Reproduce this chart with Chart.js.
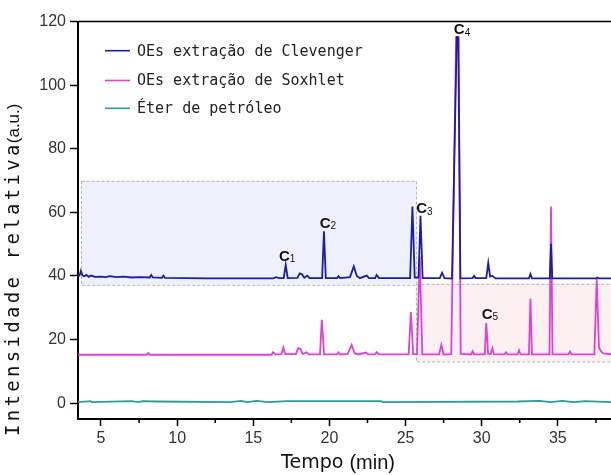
<!DOCTYPE html>
<html>
<head>
<meta charset="utf-8">
<script src="https://cdn.jsdelivr.net/npm/chart.js@4.4.1/dist/chart.umd.min.js"></script>
<style>
  html, body { margin: 0; padding: 0; background: #fff; overflow: hidden; }
  canvas { display: block; }
</style>
</head>
<body>
<canvas id="chroma" width="611" height="475"></canvas>
<script>
// chromatogram values (tempo in min, intensidade in a.u.)
const seriesNames = ["OEs extração de Clevenger", "OEs extração de Soxhlet", "Éter de petróleo"];

const clevTime = [3.5, 3.6, 3.68, 3.78, 3.9, 4.05, 4.2, 4.35, 4.6, 5.0, 5.3, 5.6, 6.0, 6.5, 7.0, 7.5,
  8.2, 8.3, 8.4, 9.0, 9.1, 9.2, 10.5, 12.0, 14.0, 16.3, 16.5, 16.7, 17.0, 17.13, 17.26, 17.9, 18.05,
  18.2, 18.35, 18.55, 18.7, 19.52, 19.64, 19.76, 20.5, 20.6, 20.7, 21.35, 21.6, 21.8, 22.0, 22.45,
  22.6, 23.0, 23.1, 23.25, 25.3, 25.45, 25.6, 25.85, 25.98, 26.12, 27.25, 27.4, 27.55, 28.05, 28.36,
  28.46, 28.6, 29.4, 29.5, 29.6, 30.3, 30.43, 30.55, 30.7, 30.9, 33.1, 33.2, 33.3, 34.47, 34.55,
  34.63, 36.0, 37.5, 37.6, 37.7, 38.6];
const clevInt = [39.8, 40.2, 41.6, 40.2, 39.9, 40.3, 39.7, 40.1, 39.7, 39.8, 39.6, 39.9, 39.6, 39.8, 39.5, 39.6,
  39.5, 40.3, 39.5, 39.4, 40.1, 39.4, 39.3, 39.2, 39.2, 39.2, 39.6, 39.3, 39.3, 43.5, 39.3, 39.4, 40.8,
  40.5, 39.4, 40.1, 39.3, 39.3, 54.0, 39.3, 39.3, 39.9, 39.3, 39.6, 43.0, 40.0, 39.3, 40.1,
  39.3, 39.3, 40.3, 39.3, 39.3, 61.8, 39.5, 39.5, 58.9, 39.3, 39.3, 41.0, 39.3, 39.2, 115.1,
  115.1, 39.2, 39.3, 40.0, 39.3, 39.3, 44.1, 39.8, 40.0, 39.2, 39.2, 40.6, 39.2, 39.2, 50.1,
  39.2, 39.2, 39.2, 39.5, 39.2, 39.2];

const soxTime = [3.5, 8.0, 8.1, 8.2, 10.0, 16.2, 16.3, 16.45, 16.85, 16.97, 17.1, 17.8, 17.95, 18.1,
  18.25, 18.5, 18.65, 19.38, 19.5, 19.65, 20.5, 20.6, 20.7, 21.2, 21.46, 21.65, 21.9, 22.4, 22.55,
  23.0, 23.1, 23.25, 25.2, 25.35, 25.5, 25.75, 25.93, 26.1, 27.2, 27.35, 27.5, 28.0, 28.32, 28.48,
  28.62, 29.3, 29.4, 29.5, 30.2, 30.3, 30.42, 30.6, 30.7, 30.8, 31.5, 31.6, 31.7, 32.35, 32.45,
  32.55, 33.1, 33.2, 33.3, 34.45, 34.55, 34.65, 35.7, 35.8, 35.9, 37.4, 37.55, 37.7, 37.85, 38.0, 38.6];
const soxInt = [15.2, 15.2, 15.8, 15.2, 15.2, 15.2, 16.0, 15.3, 15.4, 17.5, 15.4, 15.4, 17.3, 17.0,
  15.4, 16.0, 15.3, 15.3, 26.2, 15.3, 15.3, 15.9, 15.3, 15.5, 18.3, 15.7, 15.3, 15.9, 15.3,
  15.3, 16.0, 15.3, 15.3, 28.6, 15.4, 15.4, 46.0, 15.3, 15.3, 18.3, 15.3, 15.4, 115.1, 115.1,
  15.5, 15.3, 16.3, 15.3, 15.3, 25.2, 15.5, 15.5, 17.2, 15.4, 15.3, 16.0, 15.3, 15.3, 16.6,
  15.3, 15.3, 32.8, 15.3, 15.3, 61.8, 15.3, 15.3, 16.2, 15.3, 15.3, 39.1, 17.5, 16.2, 15.6, 15.3];

const eterTime = [3.5, 4.3, 4.4, 7.0, 7.5, 7.7, 8.6, 13.5, 14.2, 14.6, 15.2, 16.0, 17.2, 23.4, 23.5,
  32.4, 33.8, 34.5, 35.3, 36.0, 36.8, 38.6];
const eterInt = [0.3, 0.6, 0.3, 0.6, 0.3, 0.6, 0.5, 0.3, 0.7, 0.3, 0.7, 0.3, 0.6, 0.6, 0.3,
  0.5, 0.7, 0.3, 0.7, 0.3, 0.6, 0.3];

// peak labels (left edge of text, centre line)
const peakNames = ["1", "2", "3", "4", "5"];
const peakTime = [16.69, 19.36, 25.70, 28.17, 30.0];
const peakInt = [46.1, 56.4, 61.0, 117.4, 27.8];

// highlighted regions: [tMin, tMax, iMin, iMax]
const regionBlue = [3.69, 25.68, 37.2, 69.9];
const regionPink = [25.68, 40, 13.1, 37.5];

const xTickValues = [5, 10, 15, 20, 25, 30, 35];
const xMinorValues = [7.5, 12.5, 17.5, 22.5, 27.5, 32.5, 37.5];
const yTickValues = [0, 20, 40, 60, 80, 100, 120];

const colors = ["#1c1caa", "#e23ed9", "#2b9d96"];

function toPoints(ts, vs) {
  return ts.map((t, i) => ({ x: t, y: vs[i] }));
}

const decor = {
  id: "decor",
  beforeDatasetsDraw(chart) {
    const { ctx, chartArea, scales } = chart;
    const x = scales.x, y = scales.y;
    ctx.save();
    ctx.beginPath();
    ctx.rect(chartArea.left, chartArea.top, chartArea.right - chartArea.left, chartArea.bottom - chartArea.top);
    ctx.clip();
    [[regionBlue, "#eef0fc"], [regionPink, "#fdf0f0"]].forEach(([r, fill]) => {
      const x0 = x.getPixelForValue(r[0]), x1 = x.getPixelForValue(r[1]);
      const y0 = y.getPixelForValue(r[3]), y1 = y.getPixelForValue(r[2]);
      ctx.fillStyle = fill;
      ctx.fillRect(x0, y0, x1 - x0, y1 - y0);
      ctx.setLineDash([3, 2]);
      ctx.strokeStyle = "#b4b4b4";
      ctx.lineWidth = 1;
      ctx.strokeRect(x0 + 0.5, y0 + 0.5, x1 - x0, y1 - y0);
    });
    ctx.restore();
  },
  afterDraw(chart) {
    const { ctx, chartArea, scales } = chart;
    const x = scales.x, y = scales.y;
    ctx.save();

    // top frame
    ctx.strokeStyle = "#000";
    ctx.lineWidth = 1.5;
    ctx.beginPath();
    ctx.moveTo(chartArea.left, chartArea.top);
    ctx.lineTo(chartArea.right, chartArea.top);
    ctx.stroke();

    // minor x ticks
    ctx.lineWidth = 1.5;
    xMinorValues.forEach(v => {
      const px = x.getPixelForValue(v);
      ctx.beginPath();
      ctx.moveTo(px, chartArea.bottom);
      ctx.lineTo(px, chartArea.bottom + 4);
      ctx.stroke();
    });

    // peak labels
    ctx.fillStyle = "#111";
    ctx.textBaseline = "middle";
    ctx.textAlign = "left";
    peakNames.forEach((n, i) => {
      const px = x.getPixelForValue(peakTime[i]);
      const py = y.getPixelForValue(peakInt[i]);
      ctx.font = "bold 15px 'Liberation Sans', Arial, sans-serif";
      ctx.fillText("C", px, py);
      const w = ctx.measureText("C").width;
      ctx.font = "10px 'Liberation Sans', Arial, sans-serif";
      ctx.fillText(n, px + w, py + 3);
    });

    // legend
    const legY = [50.7, 80.5, 108.3];
    seriesNames.forEach((name, i) => {
      ctx.strokeStyle = colors[i];
      ctx.lineWidth = 1.6;
      ctx.beginPath();
      ctx.moveTo(105, legY[i]);
      ctx.lineTo(130, legY[i]);
      ctx.stroke();
      ctx.fillStyle = "#222";
      ctx.font = "15px 'DejaVu Sans Mono', monospace";
      ctx.fillText(name, 137, legY[i] + 1);
    });

    // x title
    ctx.fillStyle = "#111";
    ctx.textBaseline = "middle";
    ctx.font = "19px 'DejaVu Sans', sans-serif";
    const tw1 = ctx.measureText("Tempo ").width;
    ctx.font = "20px 'Liberation Sans', Arial, sans-serif";
    const tw2 = ctx.measureText("(min)").width;
    let tx = 338 - (tw1 + tw2) / 2;
    ctx.font = "19px 'DejaVu Sans', sans-serif";
    ctx.fillText("Tempo ", tx, 463);
    ctx.font = "20px 'Liberation Sans', Arial, sans-serif";
    ctx.fillText("(min)", tx + tw1, 463);

    // y title
    ctx.translate(19, 436);
    ctx.rotate(-Math.PI / 2);
    ctx.textBaseline = "alphabetic";
    ctx.font = "19px 'DejaVu Sans Mono', monospace";
    ctx.letterSpacing = "3.3px";
    ctx.fillText("Intensidade relativa", 0, 0);
    const yw = ctx.measureText("Intensidade relativa").width;
    ctx.letterSpacing = "0px";
    ctx.font = "17px 'Liberation Sans', Arial, sans-serif";
    ctx.fillText("(a.u.)", yw - 2, 0);
    ctx.restore();
  }
};

new Chart(document.getElementById("chroma"), {
  type: "line",
  data: {
    datasets: [
      { label: seriesNames[0], data: toPoints(clevTime, clevInt), borderColor: colors[0] },
      { label: seriesNames[1], data: toPoints(soxTime, soxInt), borderColor: colors[1] },
      { label: seriesNames[2], data: toPoints(eterTime, eterInt), borderColor: colors[2] }
    ].map(d => Object.assign(d, { borderWidth: 1.8, pointRadius: 0, tension: 0, fill: false }))
  },
  options: {
    responsive: false,
    animation: false,
    devicePixelRatio: 1,
    layout: { padding: { top: 21.5, left: 0, right: 0, bottom: 0 } },
    plugins: { legend: { display: false }, tooltip: { enabled: false } },
    scales: {
      x: {
        type: "linear",
        min: 3.49,
        max: 38.49,
        afterBuildTicks: s => { s.ticks = xTickValues.map(v => ({ value: v })); },
        afterFit: s => { s.height = 56; },
        grid: { drawOnChartArea: false, drawTicks: true, tickLength: 7, tickColor: "#000", tickWidth: 1.5 },
        border: { display: true, color: "#000", width: 2 },
        ticks: { font: { family: "'Liberation Sans', Arial, sans-serif", size: 16 }, color: "#333",
          padding: 3, maxRotation: 0, autoSkip: false }
      },
      y: {
        type: "linear",
        min: -5,
        max: 120,
        afterBuildTicks: s => { s.ticks = yTickValues.map(v => ({ value: v })); },
        afterFit: s => { s.width = 78; },
        grid: { drawOnChartArea: false, drawTicks: true, tickLength: 8, tickColor: "#000", tickWidth: 1.5 },
        border: { display: true, color: "#000", width: 2 },
        ticks: { font: { family: "'Liberation Sans', Arial, sans-serif", size: 16 }, color: "#333",
          padding: 4, autoSkip: false }
      }
    }
  },
  plugins: [decor]
});
</script>
</body>
</html>
